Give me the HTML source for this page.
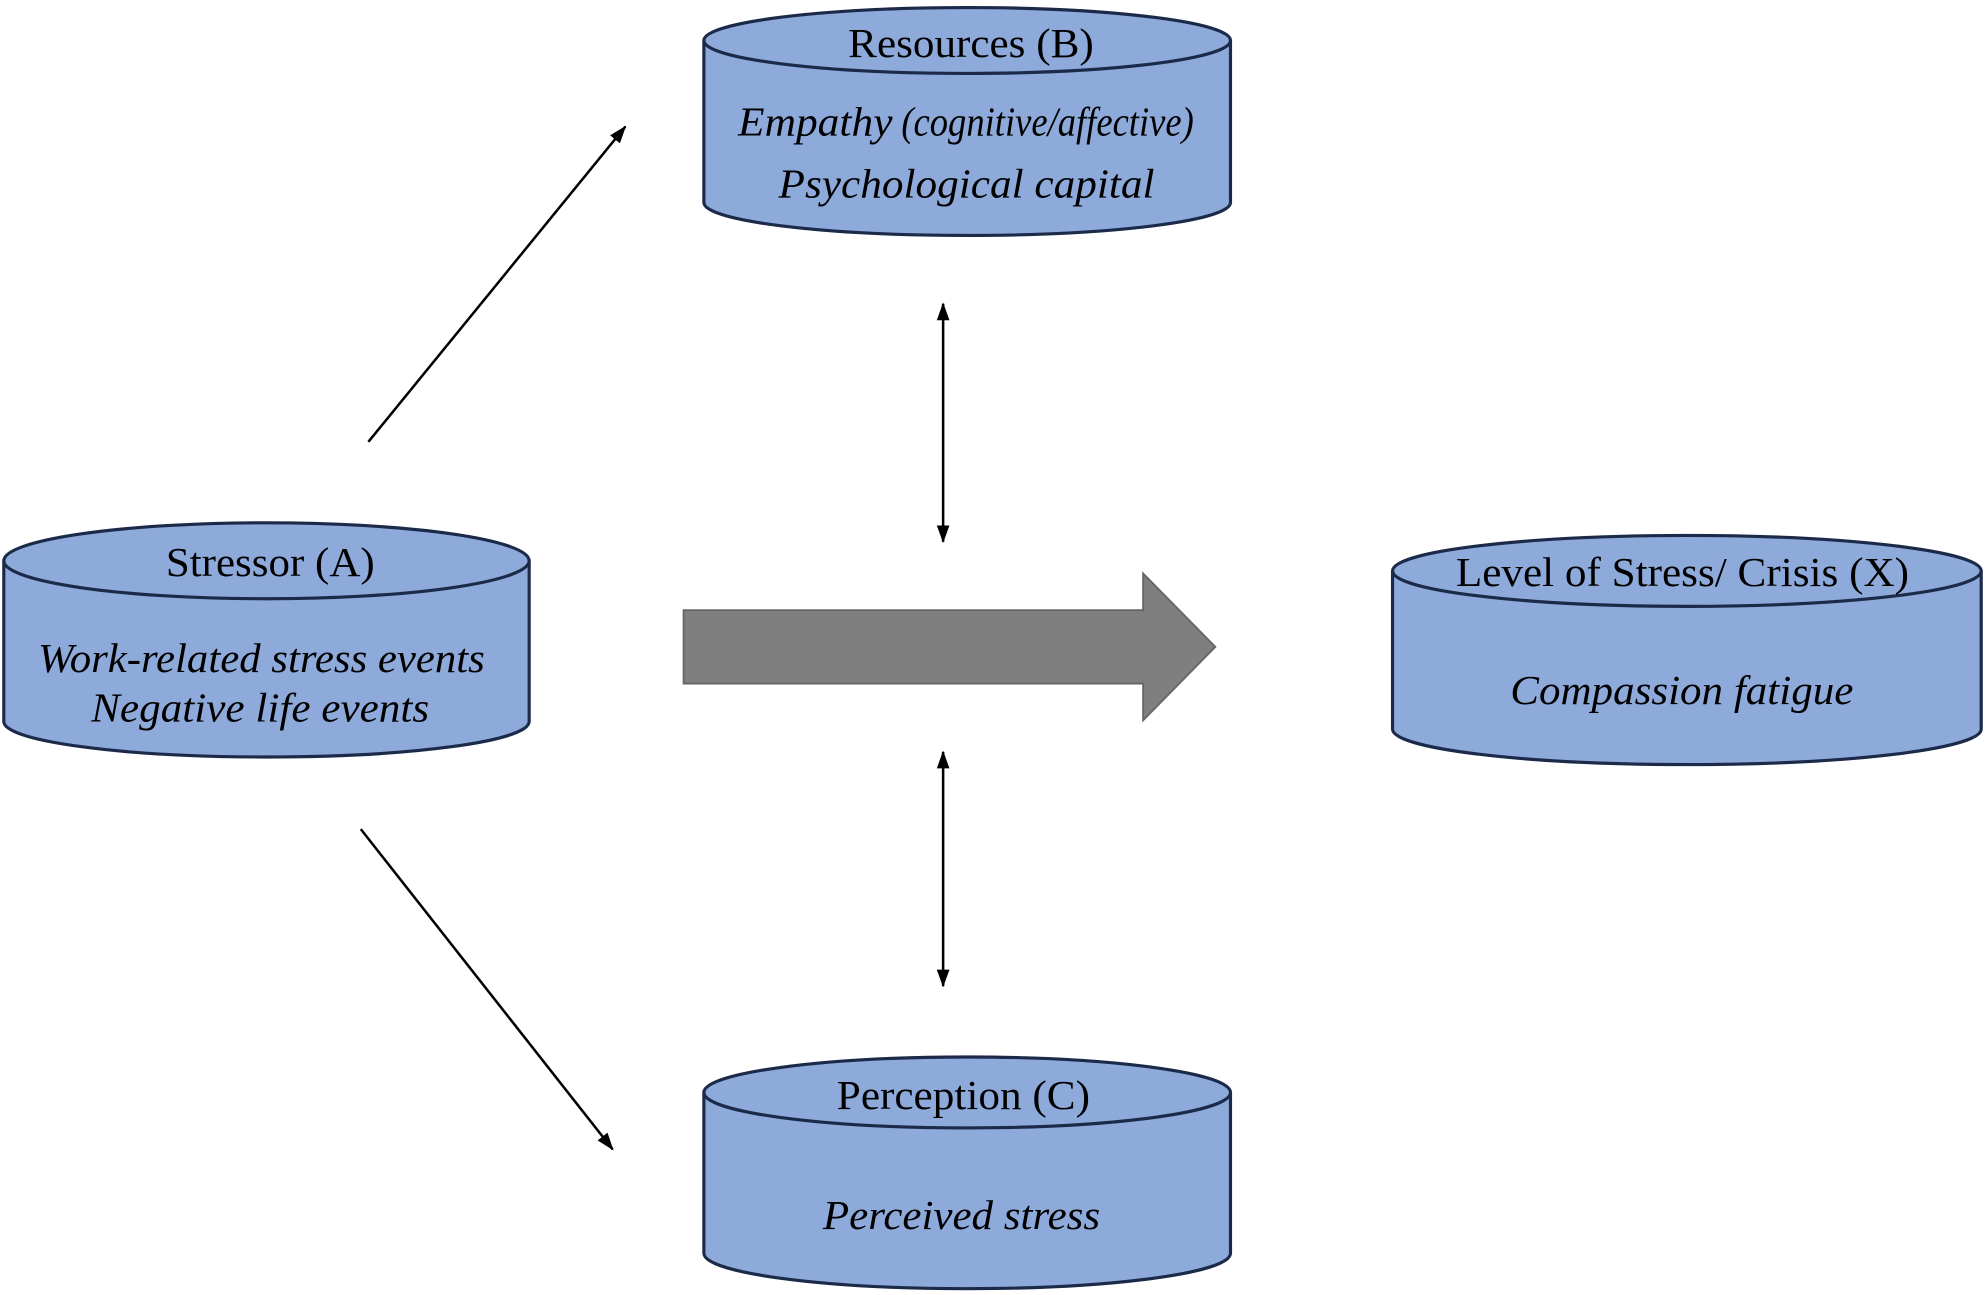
<!DOCTYPE html>
<html><head><meta charset="utf-8"><style>
html,body{margin:0;padding:0;background:#fff;}
svg{display:block;}
text{font-family:"Liberation Serif",serif;fill:#000;}
.t{font-size:33px;}
.i{font-size:33px;font-style:italic;}
</style></head><body>
<svg width="1985" height="1295" viewBox="0 0 1568 1023" preserveAspectRatio="none" xmlns="http://www.w3.org/2000/svg">
<defs>
<marker id="ah" viewBox="0 0 14 12" refX="13" refY="6" markerWidth="14" markerHeight="12" markerUnits="userSpaceOnUse" orient="auto-start-reverse">
<path d="M0,1 L14,6 L0,11 z" fill="#000"/></marker>
</defs>
<g fill="#8eaadb" stroke="#1c2a4a" stroke-width="2.5">
<path d="M556,32 L556,160 A208,26 0 0 0 972,160 L972,32"/>
<ellipse cx="764" cy="32" rx="208" ry="26"/>
<path d="M3,443 L3,570 A207.5,28 0 0 0 418,570 L418,443"/>
<ellipse cx="210.5" cy="443" rx="207.5" ry="30"/>
<path d="M1100,451 L1100,576 A232.5,28 0 0 0 1565,576 L1565,451"/>
<ellipse cx="1332.5" cy="451" rx="232.5" ry="28"/>
<path d="M556,863 L556,990 A208,28 0 0 0 972,990 L972,863"/>
<ellipse cx="764" cy="863" rx="208" ry="28"/>
</g>
<path d="M540,482 L903,482 L903,453 L960,511 L903,569 L903,540 L540,540 Z" fill="#7f7f7f" stroke="#666" stroke-width="1.5"/>
<g stroke="#000" stroke-width="2" fill="none">
<line x1="291" y1="349" x2="494" y2="100" marker-end="url(#ah)"/>
<line x1="285" y1="655" x2="484" y2="908" marker-end="url(#ah)"/>
<line x1="745" y1="240" x2="745" y2="428" marker-start="url(#ah)" marker-end="url(#ah)"/>
<line x1="745" y1="594" x2="745" y2="779" marker-start="url(#ah)" marker-end="url(#ah)"/>
</g>
<g>
<text class="t" x="670" y="45" textLength="194" lengthAdjust="spacingAndGlyphs">Resources (B)</text>
<text class="i" x="583" y="107" textLength="122" lengthAdjust="spacingAndGlyphs">Empathy</text>
<text class="i" x="712" y="107" font-size="26" textLength="231" lengthAdjust="spacingAndGlyphs">(cognitive/affective)</text>
<text class="i" x="615" y="156" textLength="297" lengthAdjust="spacingAndGlyphs">Psychological capital</text>
<text class="t" x="131" y="455" textLength="165" lengthAdjust="spacingAndGlyphs">Stressor (A)</text>
<text class="i" x="30" y="531" textLength="353" lengthAdjust="spacingAndGlyphs">Work-related stress events</text>
<text class="i" x="72" y="570" textLength="267" lengthAdjust="spacingAndGlyphs">Negative life events</text>
<text class="t" x="1150" y="463" textLength="358" lengthAdjust="spacingAndGlyphs">Level of Stress/ Crisis (X)</text>
<text class="i" x="1193" y="556" textLength="271" lengthAdjust="spacingAndGlyphs">Compassion fatigue</text>
<text class="t" x="661" y="876" textLength="200" lengthAdjust="spacingAndGlyphs">Perception (C)</text>
<text class="i" x="650" y="971" textLength="219" lengthAdjust="spacingAndGlyphs">Perceived stress</text>
</g>
</svg>
</body></html>
